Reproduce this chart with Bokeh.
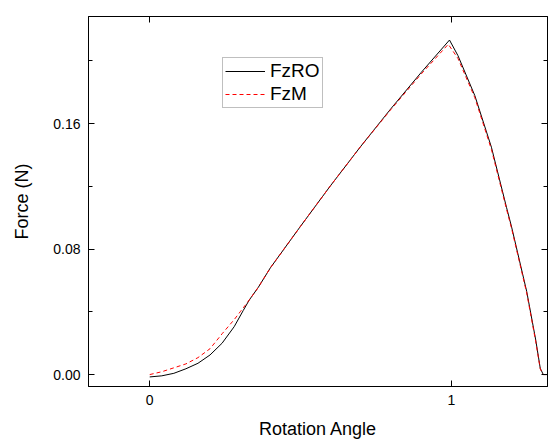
from bokeh.plotting import figure
from bokeh.models import LinearAxis, FixedTicker, Legend, LegendItem, Range1d
from bokeh.embed import file_html
from bokeh.resources import INLINE

# Data
angle_ro = [0.0, 0.04, 0.08, 0.12, 0.16, 0.20, 0.24, 0.28, 0.31, 0.33, 0.36, 0.40, 0.50,
            0.60, 0.70, 0.80, 0.90, 0.994, 1.022, 1.078, 1.133, 1.183, 1.20, 1.25,
            1.28, 1.295, 1.305, 1.32]
fz_ro = [-0.0015, -0.0008, 0.0008, 0.0037, 0.0072, 0.0125, 0.0200, 0.0305, 0.0408, 0.0475,
         0.0556, 0.0680, 0.0945, 0.1205, 0.1455, 0.1695, 0.1925, 0.2132, 0.2033, 0.1778,
         0.1449, 0.1066, 0.0940, 0.0530, 0.0220, 0.0040, 0.0, 0.0]

angle_m = [0.0, 0.04, 0.08, 0.12, 0.16, 0.20, 0.24, 0.28, 0.30, 0.33, 0.36, 0.40, 0.50,
           0.60, 0.70, 0.80, 0.90, 0.99, 1.022, 1.078, 1.133, 1.183, 1.20, 1.25,
           1.28, 1.295, 1.305, 1.32]
fz_m = [0.0, 0.0018, 0.0043, 0.0068, 0.0108, 0.0165, 0.0260, 0.0350, 0.0400, 0.0475,
        0.0556, 0.0680, 0.0945, 0.1205, 0.1455, 0.1690, 0.1915, 0.2105, 0.2015, 0.1765,
        0.1435, 0.1055, 0.0930, 0.0520, 0.0210, 0.0035, 0.0, 0.0]

x_ticks = [0, 1]
y_ticks = [0.0, 0.08, 0.16]
y_minor = [0.04, 0.12, 0.20]

FONT = "Liberation Sans"

p = figure(width=552, height=441, output_backend="svg", toolbar_location=None,
           x_range=Range1d(-0.203, 1.319), y_range=Range1d(-0.0076, 0.2282),
           min_border_left=88, min_border_right=5, min_border_top=16, min_border_bottom=55)
p.xgrid.visible = False
p.ygrid.visible = False
p.outline_line_color = "black"
p.outline_line_width = 1
p.background_fill_color = "white"
p.border_fill_color = "white"

r1 = p.line(angle_ro, fz_ro, line_color="black", line_width=1)
r2 = p.line(angle_m, fz_m, line_color="red", line_width=1, line_dash="4 3")

def style_axis(ax, show_labels, ticks=None):
    ax.axis_line_color = "black"
    ax.major_tick_line_color = "black"
    ax.minor_tick_line_color = "black"
    ax.major_tick_in = 6
    ax.major_tick_out = 0
    ax.minor_tick_in = 4
    ax.minor_tick_out = 0
    if show_labels:
        ax.major_label_text_font = FONT
        ax.major_label_text_font_size = "14px"
        ax.major_label_text_color = "black"
        ax.major_label_standoff = 8
        ax.axis_label_text_font = FONT
        ax.axis_label_text_font_size = "18px"
        ax.axis_label_text_font_style = "normal"
        ax.axis_label_text_color = "black"
    else:
        ax.major_label_overrides = {t: "" for t in ticks}
        ax.major_label_text_color = None
        ax.major_label_standoff = 0

p.xaxis.ticker = FixedTicker(ticks=x_ticks, minor_ticks=[])
p.yaxis.ticker = FixedTicker(ticks=y_ticks, minor_ticks=y_minor)
p.xaxis.axis_label = "Rotation Angle"
p.yaxis.axis_label = "Force (N)"
style_axis(p.xaxis[0], True)
style_axis(p.yaxis[0], True)
p.xaxis.axis_label_standoff = 11
p.yaxis.axis_label_standoff = 18
p.yaxis.major_label_overrides = {0: "0.00", 0.08: "0.08", 0.16: "0.16"}

top = LinearAxis(ticker=FixedTicker(ticks=x_ticks, minor_ticks=[]))
style_axis(top, False, x_ticks)
p.add_layout(top, "above")
right = LinearAxis(ticker=FixedTicker(ticks=y_ticks, minor_ticks=y_minor))
style_axis(right, False, y_ticks)
p.add_layout(right, "right")

legend = Legend(items=[LegendItem(label="FzRO", renderers=[r1]),
                       LegendItem(label="FzM", renderers=[r2])],
                location=(134, 278), orientation="vertical")
legend.label_text_font = FONT
legend.label_text_font_size = "19px"
legend.label_text_color = "black"
legend.glyph_width = 40
legend.glyph_height = 18
legend.label_height = 18
legend.label_standoff = 5
legend.spacing = 1
legend.padding = 2
legend.margin = 0
legend.border_line_color = "#808080"
legend.border_line_width = 1
legend.background_fill_color = "white"
legend.background_fill_alpha = 1
p.add_layout(legend, "center")

open("out.html", "w").write(file_html(p, INLINE))
